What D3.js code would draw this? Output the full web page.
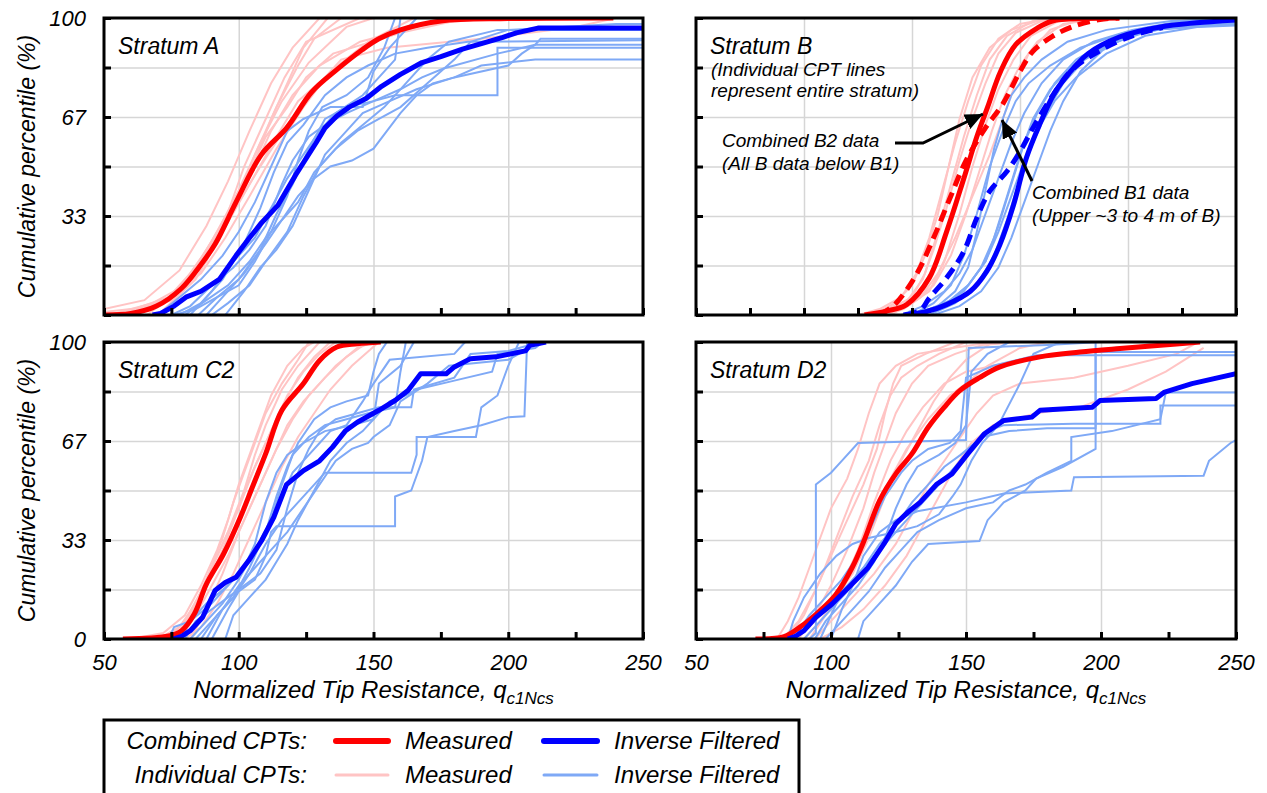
<!DOCTYPE html>
<html>
<head>
<meta charset="utf-8">
<script src="https://cdn.jsdelivr.net/npm/d3@7"></script>
<style>
  body { margin: 0; background: #fff; }
  svg { display: block; font-family: Arial, "Liberation Sans", sans-serif; font-style: italic; }
</style>
</head>
<body>
<svg id="chart"></svg>
<script>
var width = 1267;
var height = 793;

// ---- data: [qc1Ncs, cumulative percentile] ----

// Stratum A
var aMeasured = [[50,0],[60,0.5],[69.5,3],[78.8,9],[86,17],[91.3,24],[99,38],[108.4,54],[117.8,63],[127,75],[136.4,82.6],[145.8,89.3],[152,93],[160,96],[175,99],[200,99.8],[239,100]];
var aFiltered = [[68,0],[71,0.5],[76,3],[80.4,6],[86,8],[92.8,12],[99,20],[104,26],[108.4,31],[114.6,37],[121,47],[128.7,58],[132,63],[136.4,67],[141,70],[147.4,73],[153,77],[160,81],[168,85],[175,87],[183,89.5],[191,91.6],[198,93.5],[203,95],[211,96.6],[250,96.6]];
var aIndivMeasured = [
  [[50,2],[65,5],[78,15],[88,30],[96,45],[104,62],[112,78],[120,90],[130,100]],
  [[50,1],[70,3],[82,12],[92,28],[100,42],[108,58],[116,72],[126,85],[140,97],[150,100]],
  [[55,0],[72,4],[84,16],[90,25],[98,38],[106,52],[112,66],[118,78],[124,90],[133,100]],
  [[60,0],[75,5],[85,18],[95,30],[103,46],[110,60],[118,70],[125,80],[135,88],[160,95],[185,100]],
  [[62,0],[78,8],[88,22],[97,35],[105,48],[112,62],[120,74],[130,84],[145,92],[170,98],[195,100]],
  [[58,1],[74,6],[86,14],[95,26],[104,40],[114,56],[124,70],[134,82],[148,92],[165,100]],
  [[66,0],[80,10],[90,24],[100,38],[108,50],[118,64],[128,76],[138,86],[155,90],[190,93],[225,97],[240,100]],
  [[52,0],[68,4],[80,10],[88,18],[95,32],[102,50],[110,66],[117,80],[125,92],[145,100]],
  [[70,0],[84,12],[94,28],[104,44],[114,60],[122,72],[132,80],[140,86],[150,92],[175,100]],
  [[56,0],[76,6],[88,20],[98,36],[106,54],[114,70],[122,84],[128,93],[138,100]]
];
var aIndivFiltered = [
  [[75,0],[82,3],[90,10],[98,16],[104,22],[110,30],[116,44],[120,52],[126,60],[132,64],[140,68],[150,72],[158,74],[196,74],[196,90],[250,90]],
  [[80,0],[88,5],[96,10],[104,18],[110,26],[116,32],[122,40],[128,46],[134,50],[142,52],[150,56],[155,62],[160,68],[166,74],[172,78],[180,80],[190,84],[210,86],[250,86]],
  [[85,0],[92,6],[100,12],[108,22],[114,34],[120,44],[126,56],[132,66],[140,70],[150,72],[160,76],[168,80],[176,83],[196,88],[210,91],[212,93],[250,93]],
  [[78,0],[86,4],[94,12],[102,24],[108,36],[113,48],[118,58],[124,64],[132,74],[140,80],[148,84],[158,88],[170,90],[185,92],[250,92.5]],
  [[82,0],[90,8],[98,18],[106,26],[112,36],[118,46],[124,54],[130,62],[136,68],[146,74],[152,80],[158,86],[160,100]],
  [[88,0],[94,6],[102,14],[110,24],[116,32],[122,38],[128,48],[136,56],[144,62],[152,66],[160,70],[170,78],[180,86],[186,92],[200,96],[240,98],[250,98]],
  [[70,0],[78,6],[86,12],[94,20],[100,28],[106,38],[112,50],[118,62],[124,66],[134,70],[146,70],[150,82],[156,90],[162,96],[166,100]],
  [[90,0],[96,4],[104,10],[110,18],[118,28],[124,40],[130,50],[138,58],[146,64],[154,70],[162,78],[170,86],[178,92],[196,96],[250,96]],
  [[76,0],[84,2],[92,6],[100,10],[106,18],[112,28],[118,40],[122,52],[126,62],[131,70],[140,74],[148,80],[154,90],[158,100]],
  [[95,0],[102,8],[108,16],[114,22],[120,30],[126,42],[132,54],[138,60],[146,68],[156,72],[166,76],[180,80],[200,84],[205,88],[210,91],[250,91]]
];

// Stratum B (B2 = all B below B1, B1 = upper 3-4 m)
var b2Measured = [[128,0],[138,1.3],[147.5,3.5],[158,12.5],[166,28],[174,46],[180,60],[185,70],[191,82],[198,91],[208,96.6],[215,99],[230,99.8],[246,100]];
var b1Measured = [[135,0],[142,3.5],[152,13.6],[160,26],[167.6,39.4],[175,52],[184,63],[192,71],[200,82],[206,88.8],[215,93.8],[224,97],[237,99.5],[246,100]];
var b2Filtered = [[146,0],[156,1],[166,3.5],[177,8],[184.6,14.7],[190.7,23.7],[197,37],[203,53],[209,64],[215.4,74],[220,79],[231.5,88],[246,93.6],[265,97],[300,99.3]];
var b1Filtered = [[147,0],[154,1.7],[158,5.7],[166,12.5],[174,21.4],[180,32.7],[186,41.7],[194,48.4],[200,55],[206,63],[215.4,74.2],[224,82.5],[237,89],[252,94],[266,96.8]];
var bIndivMeasured = [
  [[125,0],[135,2],[145,6],[152,14],[158,26],[164,42],[170,58],[176,72],[182,84],[190,93],[200,98],[215,100]],
  [[130,0],[140,2],[150,6],[156,14],[162,28],[168,44],[174,60],[180,74],[186,86],[194,94],[206,99],[222,100]],
  [[135,0],[148,3],[158,8],[165,18],[172,34],[178,50],[184,64],[190,76],[197,86],[205,94],[218,99],[235,100]],
  [[128,0],[138,2],[148,5],[155,12],[160,22],[166,36],[172,52],[178,66],[184,78],[190,88],[198,95],[210,99],[228,100]],
  [[140,0],[150,4],[160,10],[168,20],[175,34],[181,48],[187,62],[193,74],[200,84],[208,92],[220,98],[238,100]],
  [[132,0],[142,4],[150,10],[156,20],[162,34],[167,50],[172,66],[178,80],[186,90],[196,96],[212,100]],
  [[138,0],[146,2],[154,6],[162,14],[170,26],[178,40],[186,54],[192,66],[198,78],[204,88],[214,96],[230,100]]
];
var bIndivFiltered = [
  [[148,0],[158,2],[168,5],[176,10],[184,18],[190,30],[196,44],[202,58],[208,68],[216,78],[226,86],[240,92],[260,96],[300,98]],
  [[152,0],[164,3],[174,8],[182,16],[188,26],[194,40],[200,54],[206,66],[214,76],[224,84],[238,90],[256,95],[280,98],[300,99]],
  [[145,0],[155,3],[165,8],[172,14],[178,22],[184,34],[190,46],[196,58],[202,68],[210,78],[220,86],[234,92],[252,96],[275,99],[300,100]],
  [[158,0],[170,4],[180,10],[188,20],[194,32],[200,46],[206,58],[212,68],[220,78],[230,86],[244,92],[262,96],[300,98.5]],
  [[150,0],[162,3],[170,8],[176,16],[180,28],[184,42],[188,56],[192,66],[196,74],[202,80],[210,86],[222,92],[240,96],[270,99],[300,99.5]],
  [[160,0],[172,3],[182,8],[190,16],[196,26],[202,38],[208,50],[214,62],[220,72],[228,82],[238,89],[250,94],[270,97],[300,98]],
  [[155,0],[166,4],[176,10],[184,18],[190,28],[196,40],[202,52],[208,62],[216,72],[226,80],[240,88],[258,94],[282,97],[300,97.5]],
  [[150,0],[160,4],[168,10],[174,20],[180,34],[186,50],[192,62],[198,72],[204,78],[214,84],[228,90],[248,95],[270,98],[300,99]]
];

// Stratum C2
var c2Measured = [[57,0],[74,1],[78.8,2.8],[83.5,8.4],[88,18.5],[94.4,28.7],[100.6,41],[105,51],[110,62.4],[116,77],[124,86],[130,93.8],[136.4,98.3],[144,99.4],[152.7,100]];
var c2Filtered = [[75.7,0],[79,1],[82,2.8],[86.6,7.3],[91.2,16.3],[95,19],[99,20.8],[103.7,26.4],[108.4,33],[113,41],[117.7,52],[124,56.7],[130,60],[134.8,64.6],[139.5,70],[144,73],[152,77],[158,80.3],[162.8,83.7],[167.5,89.3],[177,89.3],[180,91.6],[186,94.4],[195.5,95],[206.4,97],[208,98.9],[214,100]];
var c2IndivMeasured = [
  [[60,0],[72,2],[80,8],[86,18],[92,30],[96,40],[100,52],[104,62],[108,72],[112,82],[118,92],[124,98],[128,100]],
  [[70,0],[78,4],[84,12],[90,24],[96,36],[102,50],[106,62],[110,72],[116,84],[122,92],[130,100]],
  [[74,0],[80,6],[86,16],[92,28],[98,40],[104,54],[110,66],[116,78],[122,88],[128,95],[134,100]],
  [[72,0],[78,4],[84,10],[88,18],[94,30],[100,44],[106,58],[112,70],[118,82],[124,90],[130,96],[136,100]],
  [[78,0],[84,8],[90,18],[96,28],[102,40],[108,52],[114,64],[120,74],[126,82],[132,88],[140,95],[148,100]],
  [[80,0],[86,4],[92,12],[98,22],[104,34],[110,46],[116,58],[122,68],[128,76],[134,84],[142,92],[152,100]],
  [[76,0],[82,8],[88,20],[94,34],[98,46],[102,56],[106,66],[110,76],[116,86],[122,94],[126,100]],
  [[82,0],[88,10],[94,22],[100,36],[106,48],[112,60],[118,72],[124,80],[130,86],[136,92],[144,98],[150,100]]
];
var c2IndivFiltered = [
  [[90,0],[96,10],[100,16],[106,20],[110,28],[112,36],[114,38],[158,38],[158,48],[164,50],[168,60],[170,68],[180,70],[190,72],[200,74.7],[206,75],[207,100]],
  [[86,0],[92,8],[98,14],[104,22],[110,32],[116,40],[122,46],[128,52],[132,56],[164,56],[166,62],[166,68],[188,68],[190,78],[196,82],[200,92],[204,100]],
  [[80,0],[84,6],[90,10],[96,14],[102,18],[108,22],[114,30],[118,44],[122,56],[126,64],[130,70],[136,74],[144,76],[152,78],[164,78],[165,84],[180,88],[186,96],[200,97],[212,100]],
  [[95,0],[98,8],[104,14],[110,20],[114,26],[118,32],[122,40],[128,50],[134,60],[140,66],[146,70],[150,74],[156,80],[162,82],[166,84],[180,87],[194,90],[196,96],[210,98],[213,100]],
  [[78,0],[82,6],[88,12],[96,18],[104,26],[110,36],[114,48],[118,58],[122,66],[128,74],[134,78],[140,80],[148,82],[150,90],[152,96],[155,100]],
  [[84,0],[90,6],[98,14],[104,24],[108,32],[112,40],[116,52],[120,62],[126,68],[132,72],[140,74],[148,76],[158,78],[160,90],[162,100]],
  [[74,0],[76,4],[82,6],[90,12],[96,18],[102,24],[106,32],[110,46],[114,56],[118,62],[124,66],[132,70],[142,72],[150,74],[152,86],[160,92],[165,100]],
  [[82,0],[86,4],[94,12],[100,20],[106,30],[112,40],[116,48],[120,56],[126,62],[130,66],[134,70],[140,72],[146,80],[150,86],[156,94],[180,96],[184,100]],
  [[88,0],[94,10],[100,18],[106,24],[112,30],[118,36],[124,44],[130,52],[136,60],[142,64],[148,66],[150,68],[156,72],[160,80],[170,86],[178,92],[200,94],[208,98],[210,100]]
];

// Stratum D2
var d2Measured = [[72,0],[82.6,0.8],[88.5,4],[96,9.6],[101.8,15],[107.8,24],[112.2,33],[118,46.6],[124,55.6],[130,62.4],[136,71.3],[141.9,78],[147.8,83.7],[155,88],[162.6,91.6],[177.4,95],[192.2,96.6],[207,97.8],[222,98.9],[236.7,100]];
var d2Filtered = [[84,0],[87,1],[90,2.8],[94.4,7.3],[100.4,11.8],[107.8,18.5],[113.7,24],[119.6,32],[124,38.8],[128.5,42.7],[133,46],[139,52],[144.8,55.6],[150.7,62.4],[156.7,69],[164,73.6],[174.4,74.7],[177.4,77],[196.7,78],[199.6,80.3],[220.4,81],[223.3,83],[233.7,86],[250,89.3]];
var d2IndivMeasured = [
  [[82,0],[88,6],[94,16],[100,28],[106,40],[112,52],[117,64],[120,76],[123,86],[126,92],[135,96],[146,100]],
  [[84,0],[90,8],[96,20],[102,34],[108,48],[114,60],[118,72],[122,82],[126,88],[132,92],[140,96],[150,100]],
  [[86,0],[92,4],[100,12],[108,22],[114,34],[120,48],[126,60],[132,70],[138,80],[144,88],[150,94],[160,100]],
  [[90,0],[96,6],[104,16],[110,28],[116,42],[122,54],[128,64],[136,74],[144,82],[150,86],[158,92],[170,98],[180,100]],
  [[94,0],[100,6],[108,14],[116,22],[124,32],[130,42],[136,52],[142,60],[148,68],[154,76],[160,82],[170,86],[190,88],[210,92],[228,96],[236,100]],
  [[96,0],[104,4],[112,10],[120,18],[128,28],[134,38],[140,48],[146,58],[152,66],[160,72],[176,76],[192,78],[210,84],[224,90],[238,98]],
  [[80,0],[84,6],[88,14],[92,24],[96,34],[100,44],[106,54],[110,64],[114,76],[118,86],[124,92],[132,96],[145,98],[160,100]],
  [[88,0],[94,8],[100,18],[106,30],[112,44],[116,56],[120,66],[124,76],[130,86],[136,92],[146,96],[156,99],[170,100]],
  [[92,0],[98,8],[104,18],[110,30],[116,46],[122,60],[128,70],[134,78],[142,86],[150,90],[170,94],[190,96],[210,98],[222,100]]
];
var d2IndivFiltered = [
  [[92,0],[94.4,2],[94.4,52],[100,56],[104,60],[110,66],[150,67],[151,98],[180,99],[200,100]],
  [[100,0],[104,10],[108,18],[112,28],[118,36],[124,40],[132,43],[150,46],[164,49],[189,50],[190,54.5],[238,55],[240,60],[248,66],[250,67]],
  [[110,0],[112,6],[118,12],[124,18],[130,26],[136,32],[155,33],[158,40],[164,46],[172,50],[176,54],[186,58],[198,64],[198,96.6],[250,96.6]],
  [[96,0],[100,8],[104,16],[110,22],[116,28],[122,34],[128,40],[134,46],[140,52],[146,58],[152,64],[158,70],[164,72],[190,72.5],[222,72.5],[222,78.6],[250,78.6]],
  [[86,0],[92,8],[98,14],[104,20],[110,28],[116,40],[120,48],[126,56],[130,60],[136,64],[144,66],[148,70],[150,88],[160,92],[176,95.5],[250,95.5]],
  [[98,0],[102,4],[108,10],[114,16],[120,24],[126,30],[132,36],[140,40],[150,44],[160,46],[166,50],[172,52],[180,56],[189,60],[189,68],[204,70],[222,74],[224,83],[250,83]],
  [[94,0],[98,6],[104,12],[110,18],[116,26],[120,34],[124,44],[128,52],[132,58],[140,62],[146,66],[150,72],[152,90],[158,96],[166,100]],
  [[84,0],[86,6],[90,14],[96,22],[102,28],[108,32],[114,34],[124,36],[132,38],[140,42],[145,48],[148,52],[152,60],[156,66],[162,72],[170,86],[175,96],[185,100]],
  [[90,0],[94,4],[100,10],[106,16],[112,24],[118,32],[124,38],[130,46],[136,52],[142,58],[148,62],[156,68],[166,70],[180,71],[198,71],[198,100]]
];

// ticks
var xTicksA = [50, 75, 100, 125, 150, 175, 200, 225, 250];
var xTicksB = [50, 75, 100, 125, 150, 175, 200, 225, 250, 275, 300];
var xLabelTicks = [50, 100, 150, 200, 250];
var xGridA = [100, 150, 200];
var xGridB = [100, 150, 200, 250];
var yTicks = [0, 100/6, 100/3, 50, 200/3, 250/3, 100];
var yGrid = [100/6, 100/3, 50, 200/3, 250/3];
var yLabelTop = {'100': '100', '66.67': '67', '33.33': '33'};
var yLabelBottom = {'100': '100', '66.67': '67', '33.33': '33', '0': '0'};

var red = '#ff0000', blue = '#0000ff', pink = '#ffc4c4', lightBlue = '#7fa9f6';

var svg = d3.select('#chart').attr('width', width).attr('height', height);
svg.append('rect').attr('width', width).attr('height', height).attr('fill', '#fff');

var defs = svg.append('defs');
defs.append('marker')
    .attr('id', 'arrow')
    .attr('markerUnits', 'userSpaceOnUse')
    .attr('markerWidth', 20).attr('markerHeight', 16)
    .attr('refX', 18).attr('refY', 8)
    .attr('orient', 'auto')
  .append('path')
    .attr('d', 'M0,0 L18,8 L0,16 Z')
    .attr('fill', '#000');

var panels = [
  {id: 'A', title: 'Stratum A', x0: 104, x1: 643, y0: 18, y1: 315, domain: [50, 250], xTicks: xTicksA, xGrid: xGridA,
   yLabels: yLabelTop, xLabels: false,
   indivM: aIndivMeasured, indivF: aIndivFiltered, lines: [
     {data: aMeasured, color: red, curve: d3.curveCatmullRom.alpha(0.5)},
     {data: aFiltered, color: blue, curve: d3.curveLinear}]},
  {id: 'B', title: 'Stratum B', x0: 696, x1: 1236, y0: 18, y1: 315, domain: [50, 300], xTicks: xTicksB, xGrid: xGridB,
   yLabels: null, xLabels: false,
   indivM: bIndivMeasured, indivF: bIndivFiltered, lines: [
     {data: b2Measured, color: red, curve: d3.curveCatmullRom.alpha(0.5)},
     {data: b1Measured, color: red, curve: d3.curveCatmullRom.alpha(0.5), dash: '12,7'},
     {data: b2Filtered, color: blue, curve: d3.curveCatmullRom.alpha(0.5)},
     {data: b1Filtered, color: blue, curve: d3.curveCatmullRom.alpha(0.5), dash: '12,7'}]},
  {id: 'C2', title: 'Stratum C2', x0: 104, x1: 643, y0: 342, y1: 639, domain: [50, 250], xTicks: xTicksA, xGrid: xGridA,
   yLabels: yLabelBottom, xLabels: true,
   indivM: c2IndivMeasured, indivF: c2IndivFiltered, lines: [
     {data: c2Measured, color: red, curve: d3.curveCatmullRom.alpha(0.5)},
     {data: c2Filtered, color: blue, curve: d3.curveLinear}]},
  {id: 'D2', title: 'Stratum D2', x0: 696, x1: 1236, y0: 342, y1: 639, domain: [50, 250], xTicks: xTicksA, xGrid: xGridA,
   yLabels: null, xLabels: true,
   indivM: d2IndivMeasured, indivF: d2IndivFiltered, lines: [
     {data: d2Measured, color: red, curve: d3.curveCatmullRom.alpha(0.5)},
     {data: d2Filtered, color: blue, curve: d3.curveLinear}]}
];

panels.forEach(function(p) {
  var w = p.x1 - p.x0, h = p.y1 - p.y0;
  var xScale = d3.scaleLinear().domain(p.domain).range([0, w]);
  var yScale = d3.scaleLinear().domain([0, 100]).range([h, 0]);
  var g = svg.append('g').attr('transform', 'translate(' + p.x0 + ',' + p.y0 + ')');

  defs.append('clipPath').attr('id', 'clip' + p.id)
    .append('rect').attr('width', w).attr('height', h);

  // grid
  g.append('g')
      .attr('transform', 'translate(0,' + h + ')')
      .call(d3.axisBottom(xScale).tickValues(p.xGrid).tickSize(-h).tickFormat(''))
      .call(function(s) { s.select('.domain').remove(); s.selectAll('line').attr('stroke', '#d6d6d6').attr('stroke-width', 1.5); });
  g.append('g')
      .call(d3.axisLeft(yScale).tickValues(yGrid).tickSize(-w).tickFormat(''))
      .call(function(s) { s.select('.domain').remove(); s.selectAll('line').attr('stroke', '#d6d6d6').attr('stroke-width', 1.5); });

  var line = d3.line().x(d => xScale(d[0])).y(d => yScale(d[1]));
  var plot = g.append('g').attr('clip-path', 'url(#clip' + p.id + ')');

  plot.selectAll('path.im').data(p.indivM).enter().append('path')
      .attr('class', 'im')
      .attr('d', line.curve(d3.curveLinear))
      .attr('fill', 'none').attr('stroke', pink).attr('stroke-width', 2);
  plot.selectAll('path.if').data(p.indivF).enter().append('path')
      .attr('class', 'if')
      .attr('d', line.curve(d3.curveLinear))
      .attr('fill', 'none').attr('stroke', lightBlue).attr('stroke-width', 2);
  p.lines.forEach(function(l) {
    plot.append('path')
        .datum(l.data)
        .attr('d', d3.line().x(d => xScale(d[0])).y(d => yScale(d[1])).curve(l.curve))
        .attr('fill', 'none').attr('stroke', l.color).attr('stroke-width', 5)
        .attr('stroke-linejoin', 'round')
        .attr('stroke-dasharray', l.dash || null);
  });

  // inner ticks + labels
  var xAxis = d3.axisBottom(xScale).tickValues(p.xTicks).tickSizeInner(-7).tickSizeOuter(0).tickPadding(15)
      .tickFormat(function(d) { return (p.xLabels && xLabelTicks.indexOf(d) >= 0) ? d : ''; });
  g.append('g').attr('transform', 'translate(0,' + h + ')').call(xAxis)
      .call(function(s) {
        s.select('.domain').remove();
        s.selectAll('line').attr('stroke', '#000').attr('stroke-width', 3);
        s.selectAll('text').attr('font-size', 22).attr('font-family', null).attr('fill', '#000');
      });
  var yAxis = d3.axisLeft(yScale).tickValues(yTicks).tickSizeInner(-7).tickSizeOuter(0).tickPadding(18)
      .tickFormat(function(d) { var k = String(Math.round(d * 100) / 100); return p.yLabels && p.yLabels[k] ? p.yLabels[k] : ''; });
  g.append('g').call(yAxis)
      .call(function(s) {
        s.select('.domain').remove();
        s.selectAll('line').attr('stroke', '#000').attr('stroke-width', 3);
        s.selectAll('text').attr('font-size', 22).attr('font-family', null).attr('fill', '#000');
      });

  // frame
  g.append('rect').attr('width', w).attr('height', h)
      .attr('fill', 'none').attr('stroke', '#000').attr('stroke-width', 3);

  // stratum title
  g.append('text').attr('x', 14).attr('y', 36).attr('font-size', 23).text(p.title);

  if (p.xLabels) {
    var t = g.append('text').attr('x', w / 2).attr('y', h + 59)
        .attr('text-anchor', 'middle').attr('font-size', 24);
    t.append('tspan').text('Normalized Tip Resistance, q');
    t.append('tspan').attr('font-size', 17).attr('dy', 6).text('c1Ncs');
  }
  if (p.yLabels) {
    g.append('text')
        .attr('transform', 'translate(' + (27 - p.x0) + ',' + (h / 2) + ') rotate(-90)')
        .attr('text-anchor', 'middle').attr('dy', '0.35em').attr('font-size', 23)
        .text('Cumulative percentile (%)');
  }
});

// Stratum B annotations
var ann = svg.append('g').attr('font-size', 19);
ann.append('text').attr('x', 711).attr('y', 76).text('(Individual CPT lines');
ann.append('text').attr('x', 711).attr('y', 97).text('represent entire stratum)');
ann.append('text').attr('x', 722).attr('y', 147).text('Combined B2 data');
ann.append('text').attr('x', 722).attr('y', 170).text('(All B data below B1)');
ann.append('text').attr('x', 1032).attr('y', 199).text('Combined B1 data');
ann.append('text').attr('x', 1032).attr('y', 222).text('(Upper ~3 to 4 m of B)');

svg.append('path')
    .attr('d', 'M895,143 L923,143 L983,114')
    .attr('fill', 'none').attr('stroke', '#000').attr('stroke-width', 3)
    .attr('marker-end', 'url(#arrow)');
svg.append('path')
    .attr('d', 'M1032,181 L1002,120')
    .attr('fill', 'none').attr('stroke', '#000').attr('stroke-width', 3)
    .attr('marker-end', 'url(#arrow)');

// legend
var legend = svg.append('g').attr('font-size', 24);
legend.append('rect').attr('x', 104).attr('y', 720).attr('width', 695).attr('height', 90)
    .attr('fill', '#fff').attr('stroke', '#000').attr('stroke-width', 3);
var legendRows = [
  {label: 'Combined CPTs:', y: 741, colors: [red, blue], widthLine: 6},
  {label: 'Individual CPTs:', y: 775, colors: [pink, lightBlue], widthLine: 3}
];
var legendNames = ['Measured', 'Inverse Filtered'];
var legendX = [[336, 388, 405], [544, 597, 614]];
legendRows.forEach(function(r) {
  legend.append('text').attr('x', 307).attr('y', r.y).attr('dy', '0.35em')
      .attr('text-anchor', 'end').text(r.label);
  r.colors.forEach(function(c, i) {
    legend.append('line').attr('x1', legendX[i][0]).attr('x2', legendX[i][1])
        .attr('y1', r.y).attr('y2', r.y)
        .attr('stroke', c).attr('stroke-width', r.widthLine).attr('stroke-linecap', 'round');
    legend.append('text').attr('x', legendX[i][2]).attr('y', r.y).attr('dy', '0.35em').text(legendNames[i]);
  });
});
</script>
</body>
</html>
